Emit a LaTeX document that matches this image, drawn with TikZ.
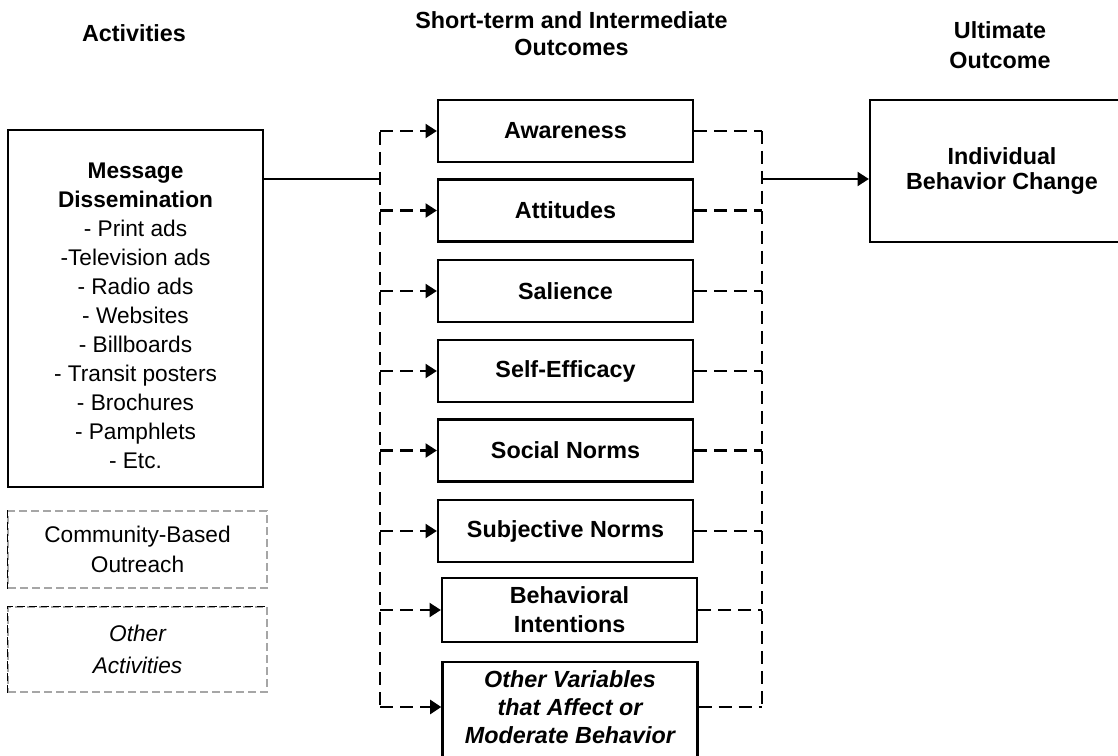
\documentclass[tikz,border=0pt]{standalone}
\usepackage{fontspec}
\setmainfont{Liberation Sans}
\usetikzlibrary{arrows.meta}
\begin{document}
\begin{tikzpicture}[x=0.75pt,y=-0.75pt,
  txt/.style={font={\fontsize{17}{21.75}\selectfont}, align=center, inner sep=0pt},
  hdr/.style={font={\fontsize{17.5}{20.5}\selectfont\bfseries}, align=center, inner sep=0pt},
  box/.style={draw, line width=1.7pt, inner sep=0pt, minimum width=191.25pt, minimum height=46.5pt,
     font={\fontsize{17.5}{21.75}\selectfont\bfseries}, align=center},
  gbox/.style={draw=gray!70, line width=1pt, dash pattern=on 6pt off 3pt, inner sep=0pt,
     minimum width=194.25pt, font={\fontsize{17}{23}\selectfont}, align=center},
  dline/.style={line width=1.6pt, dash pattern=on 9.75pt off 5.25pt},
  arr/.style={-{Triangle[length=8.5pt,width=10.5pt]}},
  sline/.style={line width=1.6pt}
]
\useasboundingbox (0,0) rectangle (1118,756);

% headers
\node[hdr] (h1) at (134,33) {Activities};
\node[hdr, font={\fontsize{17.5}{20.25}\selectfont\bfseries}] (h2) at (571.5,33.5) {Short-term and Intermediate\\Outcomes};
\node[hdr, font={\fontsize{17.5}{22.5}\selectfont\bfseries}] (h3) at (1000,45) {Ultimate\\Outcome};

% activities
\node[draw, line width=1.7pt, inner sep=0pt, minimum width=191.25pt, minimum height=267.75pt] (msg) at (135.5,308.5) {};
\node[txt] (msgtxt) at (135.5,316) {\textbf{Message}\\\textbf{Dissemination}\\- Print ads\\-Television ads\\- Radio ads\\- Websites\\- Billboards\\- Transit posters\\- Brochures\\- Pamphlets\\- Etc.};

\node[gbox, minimum height=57.75pt] (cbo) at (137.5,549.5) {Community-Based\\Outreach};
\draw[line width=1.2pt, dash pattern=on 6pt off 3pt] (cbo.north west) -- (cbo.south west);
\node[gbox, minimum height=63.75pt, font={\fontsize{17}{24}\selectfont\itshape}] (oa) at (137.5,649.5) {Other\\Activities};
\draw[line width=1.2pt, dash pattern=on 6pt off 3pt] (oa.south west) -- (oa.north west) -- (oa.north east);

% outcomes
\node[box] (b1) at (565.5,131) {Awareness};
\node[box] (b2) at (565.5,210.5) {Attitudes};
\node[box] (b3) at (565.5,291) {Salience};
\node[box] (b4) at (565.5,371) {Self-Efficacy};
\node[box] (b5) at (565.5,450.5) {Social Norms};
\node[box] (b6) at (565.5,531) {Subjective Norms};
\node[box, minimum height=48pt] (b7) at (569.5,610) {Behavioral\\Intentions};
\node[box, minimum height=81pt] (b8) at (570,716) {};
\node[txt, font={\fontsize{17.5}{21}\selectfont\bfseries\itshape}] (b8txt) at (570,707) {Other Variables\\that Affect or\\Moderate Behavior};

% ultimate
\node[draw, line width=1.7pt, inner sep=0pt, minimum width=198pt, minimum height=106.5pt,
  font={\fontsize{17.5}{19}\selectfont\bfseries}, align=center] (ind) at (1002,171) {Individual\\Behavior Change};

% coordinates
\coordinate (ltop) at (380,132);
\coordinate (lbot) at (380,707);
\coordinate (rtop) at (762,131);
\coordinate (rbot) at (762,707);
\coordinate (lin) at (380,179);
\coordinate (rout) at (762,179);

% connectors
\draw[sline] (msg.east |- lin) -- (lin);
\draw[sline, arr] (rout) -- (ind.west |- rout);
\draw[dline] (ltop) -- (lbot);
\draw[dline] (rtop) -- (rbot);
\foreach \b in {b1,b2,b3,b4,b5,b6,b7}{
  \draw[dline, arr] (ltop |- \b.west) -- (\b.west);
  \draw[dline] (\b.east) -- (rtop |- \b.east);
}
\draw[dline, line width=2.2pt, arr] (lbot) -- (b8.west |- lbot);
\draw[dline, line width=2.2pt] (b8.east |- rbot) -- (rbot);
\end{tikzpicture}
\end{document}
